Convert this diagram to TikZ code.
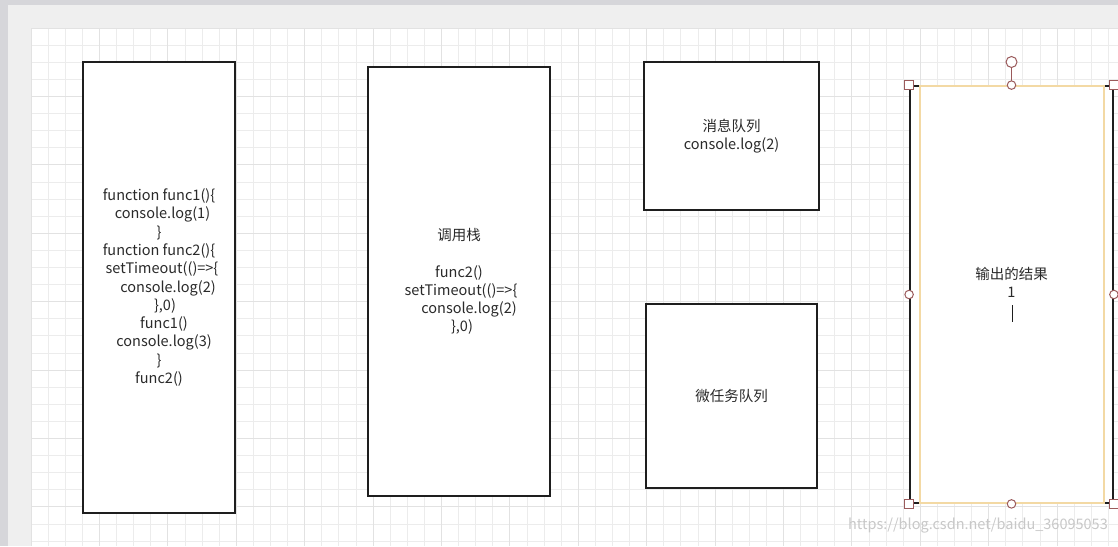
\documentclass[tikz,border=0pt]{standalone}
\usepackage{fontspec}
\setmainfont{Noto Sans CJK SC}
\definecolor{boxline}{HTML}{1E1E1E}
\definecolor{textgray}{HTML}{2A2A2A}
\definecolor{canvas}{HTML}{EFEFEF}
\definecolor{frame}{HTML}{D6D6DA}
\definecolor{gridminor}{HTML}{ECECEC}
\definecolor{gridmajor}{HTML}{E2E2E2}
\definecolor{handle}{HTML}{9A5A5B}
\definecolor{selyellow}{HTML}{F3D9A4}
\definecolor{wmark}{HTML}{C8C8C8}

\begin{document}
\begin{tikzpicture}[x=1pt,y=-1pt,
  box/.style={draw=boxline,line width=1.8pt,fill=white,align=center,inner sep=0pt,
    text=textgray,font=\fontsize{14.5}{18.3}\selectfont},
  gridline/.style={draw=gridminor,line width=0.8pt},
  handlebox/.style={draw=handle,fill=white,line width=1pt,minimum size=9pt,inner sep=0pt},
  handledot/.style={draw=handle,fill=white,line width=1pt,circle,minimum size=8.5pt,inner sep=0pt}]
\useasboundingbox (0,0) rectangle (1118,546);
\fill[frame] (0,0) rectangle (1118,546);
\fill[canvas] (8,5) rectangle (1118,546);
\fill[white] (31,28) rectangle (1118,546);
% grid
\foreach \i in {0,...,63}
  \draw[gridline] ({31+17.1*\i},28) -- ({31+17.1*\i},546);
\foreach \j in {0,...,30}
  \draw[gridline] (31,{28+17.1*\j}) -- (1118,{28+17.1*\j});
\foreach \i in {0,4,...,60}
  \draw[gridline,draw=gridmajor] ({31+17.1*\i},28) -- ({31+17.1*\i},546);
\foreach \j in {0,4,...,28}
  \draw[gridline,draw=gridmajor] (31,{28+17.1*\j}) -- (1118,{28+17.1*\j});

% boxes
\node[box,minimum width=152,minimum height=451] (code) at (159,287.5)
  {function func1()\{\\\hspace*{7pt}console.log(1)\\\}\\function func2()\{\\
   \hspace*{6pt}setTimeout(()=>\{\\\hspace*{18pt}console.log(2)\\\hspace*{12pt}\},0)\\
   \hspace*{10pt}func1()\\\hspace*{10pt}console.log(3)\\\}\\func2()};
\node[box,minimum width=182,minimum height=429] (stack) at (459,281.5)
  {调用栈\\[18.3pt]func2()\\\hspace*{4pt}setTimeout(()=>\{\\\hspace*{20pt}console.log(2)\\\hspace*{6pt}\},0)};
\node[box,minimum width=175,minimum height=148] (queue) at (731.5,136)
  {消息队列\\console.log(2)};
\node[box,minimum width=171,minimum height=184] (micro) at (731.5,396)
  {微任务队列};
\node[box,minimum width=203,minimum height=417] (result) at (1011.5,294.5)
  {输出的结果\\1\\\strut};

% selection of the result box
\draw[selyellow,line width=1.2pt] (920,86) rectangle (1104,503);
\draw[boxline,line width=0.8pt] (1012.5,305) -- (1012.5,322);
\coordinate (rot) at (1011.5,62);
\draw[handle,line width=1pt] (rot) -- (result.north);
\node[handledot,minimum size=11pt] (roth) at (rot) {};
\node[handlebox] (hnw) at (result.north west) {};
\node[handlebox] (hne) at (result.north east) {};
\node[handlebox] (hsw) at (result.south west) {};
\node[handlebox] (hse) at (result.south east) {};
\node[handledot] (hn) at (result.north) {};
\node[handledot] (hs) at (result.south) {};
\node[handledot] (hw) at (result.west) {};
\node[handledot] (he) at (result.east) {};

% watermark
\node[text=wmark,font=\fontsize{14.5}{16}\selectfont,anchor=east,inner sep=0pt] (wm) at (1108,526)
  {https://blog.csdn.net/baidu\_36095053};
\end{tikzpicture}
\end{document}
